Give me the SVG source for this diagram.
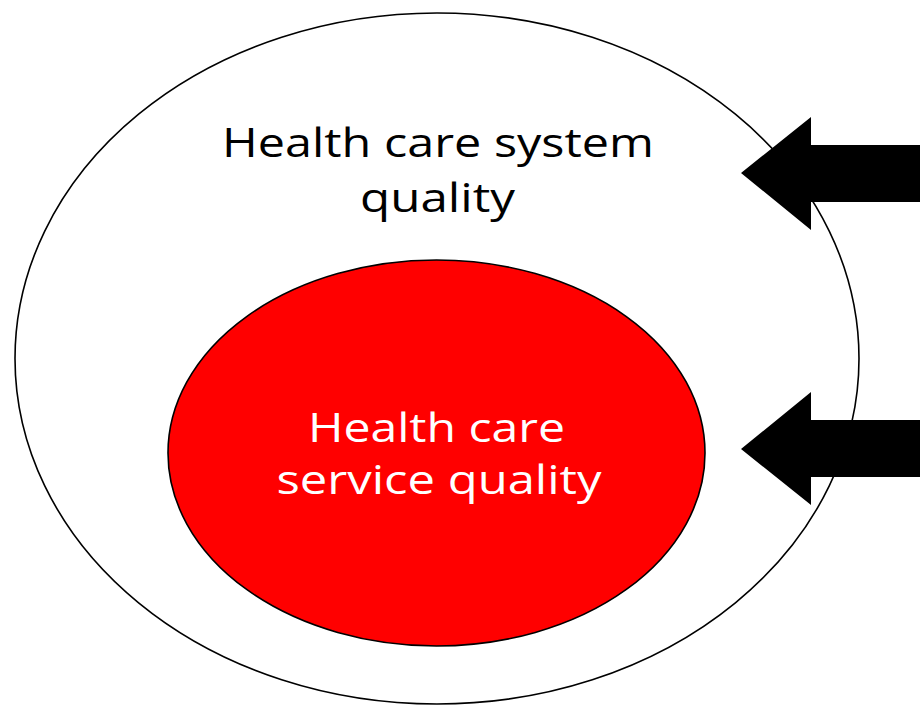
<svg xmlns="http://www.w3.org/2000/svg" width="920" height="706" viewBox="0 0 920 706">
  <style>
    .lbl { font-family: "Open Sans", "Noto Sans", "Liberation Sans", sans-serif; font-size: 41px; text-anchor: middle; }
    .dark { fill: #000000; }
    .light { fill: #ffffff; }
    .ring { stroke: #000000; stroke-width: 1.6; }
    .arrow { fill: #000000; stroke: none; }
  </style>
  <rect x="0" y="0" width="920" height="706" fill="#ffffff"/>
  <g id="system-quality">
    <ellipse class="ring" cx="437" cy="358.5" rx="422" ry="345.5" fill="#ffffff"/>
    <text class="lbl dark" x="438" y="157" textLength="432" lengthAdjust="spacingAndGlyphs">Health care system</text>
    <text class="lbl dark" x="437.5" y="212" textLength="155" lengthAdjust="spacingAndGlyphs">quality</text>
  </g>
  <g id="service-quality">
    <ellipse class="ring" cx="436.5" cy="453" rx="268.5" ry="193" fill="#ff0000"/>
    <text class="lbl light" x="436.5" y="442" textLength="257" lengthAdjust="spacingAndGlyphs">Health care</text>
    <text class="lbl light" x="439" y="494" textLength="325" lengthAdjust="spacingAndGlyphs">service quality</text>
  </g>
  <g id="connectors">
    <polygon class="arrow" points="741,173 811,117 811,145 920,145 920,202 811,202 811,230"/>
    <polygon class="arrow" points="741,449 811,392 811,420 920,420 920,477 811,477 811,505"/>
  </g>
</svg>
